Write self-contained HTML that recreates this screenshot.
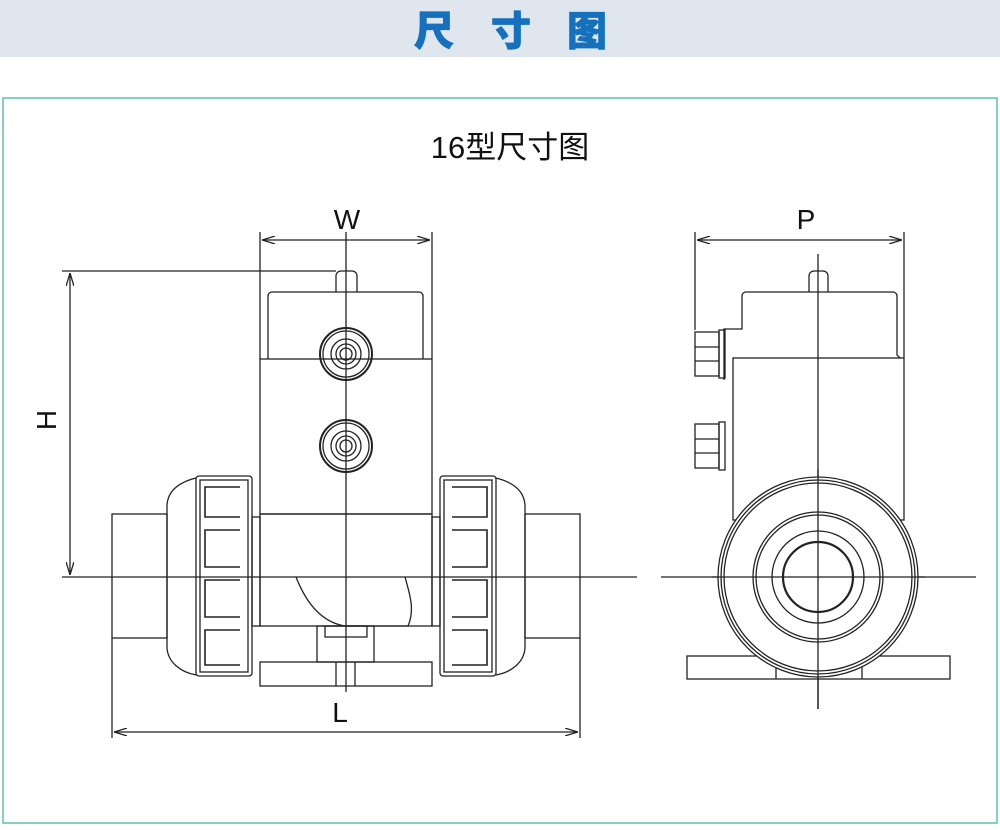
<!DOCTYPE html>
<html><head><meta charset="utf-8"><style>
body{margin:0;width:1000px;height:825px;background:#fff;overflow:hidden;font-family:"Liberation Sans","Noto Sans CJK SC",sans-serif}
</style></head><body>
<svg width="1000" height="825" viewBox="0 0 1000 825" xmlns="http://www.w3.org/2000/svg">
<rect x="0" y="0" width="1000" height="57" fill="#dfe6ee"/>
<g font-size="40" font-weight="900" fill="#1570bd" font-family="Noto Sans CJK SC, sans-serif" stroke="#1570bd" stroke-width="0.8">
<text x="414" y="45">尺</text>
<text x="491" y="45">寸</text>
<text x="567" y="45">图</text>
</g>
<rect x="3" y="98" width="994" height="725" fill="none" stroke="#5cc0b0" stroke-width="1.5"/>
<text x="510" y="158" font-size="31" text-anchor="middle" fill="#111" font-family="Liberation Sans, Noto Sans CJK SC, sans-serif">16型尺寸图</text>
<defs><marker id="a" viewBox="0 0 10 6" refX="10" refY="3" markerWidth="10" markerHeight="6" orient="auto-start-reverse"><path d="M0,0 L10,3 L0,6" fill="none" stroke="#222" stroke-width="1"/></marker></defs>
<g fill="none" stroke="#222" stroke-width="1.3">
<line x1="346" y1="232" x2="346" y2="692"/>
<line x1="62" y1="577" x2="637" y2="577"/>
<line x1="260" y1="232" x2="260" y2="359"/><line x1="432" y1="232" x2="432" y2="359"/>
<line x1="262" y1="240" x2="430" y2="240" marker-start="url(#a)" marker-end="url(#a)"/>
<line x1="62" y1="271" x2="336" y2="271"/>
<line x1="70" y1="273" x2="70" y2="575" marker-start="url(#a)" marker-end="url(#a)"/>
<path d="M336 292 V276 a5 5 0 0 1 5 -5 h11 a5 5 0 0 1 5 5 V292"/>
<path d="M268 359 V296 a4 4 0 0 1 4 -4 h147 a4 4 0 0 1 4 4 V359"/>
<rect x="260" y="359" width="172" height="155"/>
<rect x="260" y="514" width="172" height="112"/>
<g>
<circle cx="346" cy="354" r="26" stroke-width="2"/><circle cx="346" cy="354" r="23"/><circle cx="346" cy="354" r="15"/><circle cx="346" cy="354" r="10"/><circle cx="346" cy="354" r="6"/>
<circle cx="346" cy="446" r="26" stroke-width="2"/><circle cx="346" cy="446" r="23"/><circle cx="346" cy="446" r="15"/><circle cx="346" cy="446" r="10"/><circle cx="346" cy="446" r="6"/>
</g>
<path d="M296 577 C305 600 320 622 345 626 L408 626 C415 610 410 595 405 577"/>
<rect x="112" y="514" width="55" height="124"/><rect x="525" y="514" width="55" height="124"/>
<rect x="252" y="517" width="8" height="109"/><rect x="432" y="517" width="8" height="109"/>
<path d="M196 478 C180 482 168 490 167 505 V648 C168 662 180 672 196 675"/>
<rect x="196" y="476" width="56" height="200" rx="3"/>
<rect x="200" y="480" width="48" height="192"/>
<path d="M240 487 H205 V517 H240 M240 530 H205 V567 H240 M240 580 H205 V617 H240 M240 630 H205 V665 H240" stroke-width="1.6"/>
<path d="M496 478 C512 482 524 490 525 505 V648 C524 662 512 672 496 675"/>
<rect x="440" y="476" width="56" height="200" rx="3"/>
<rect x="444" y="480" width="48" height="192"/>
<path d="M452 487 H487 V517 H452 M452 530 H487 V567 H452 M452 580 H487 V617 H452 M452 630 H487 V665 H452" stroke-width="1.6"/>
<rect x="317" y="626" width="57" height="36"/><rect x="325" y="626" width="42" height="11"/>
<rect x="260" y="662" width="172" height="24"/>
<line x1="336" y1="662" x2="336" y2="686"/><line x1="355" y1="662" x2="355" y2="686"/>
<line x1="112" y1="638" x2="112" y2="738"/><line x1="580" y1="638" x2="580" y2="738"/>
<line x1="114" y1="732" x2="578" y2="732" marker-start="url(#a)" marker-end="url(#a)"/>
<line x1="818" y1="254" x2="818" y2="709"/>
<line x1="661" y1="577" x2="976" y2="577"/>
<line x1="695" y1="232" x2="695" y2="330"/><line x1="904" y1="232" x2="904" y2="358"/>
<line x1="697" y1="240" x2="902" y2="240" marker-start="url(#a)" marker-end="url(#a)"/>
<path d="M809 292 V276 a5 5 0 0 1 5 -5 h9 a5 5 0 0 1 5 5 V292"/>
<path d="M724 380 V329 H742 V296 a4 4 0 0 1 4 -4 h147 a4 4 0 0 1 4 4 V355 l3 3"/>
<rect x="733" y="358" width="171" height="162"/>
<rect x="695" y="332" width="24" height="44"/><rect x="719" y="330" width="6" height="48"/>
<line x1="695" y1="347" x2="719" y2="347"/><line x1="695" y1="361" x2="719" y2="361"/>
<rect x="695" y="424" width="24" height="44"/><rect x="719" y="422" width="6" height="48"/>
<line x1="695" y1="439" x2="719" y2="439"/><line x1="695" y1="453" x2="719" y2="453"/>
<rect x="687" y="656" width="263" height="23"/>
<line x1="776" y1="656" x2="776" y2="679"/><line x1="862" y1="656" x2="862" y2="679"/>
<circle cx="818" cy="577" r="100" fill="#fff"/><circle cx="818" cy="577" r="97"/><circle cx="818" cy="577" r="94"/>
<circle cx="818" cy="577" r="65"/><circle cx="818" cy="577" r="62"/>
<circle cx="818" cy="577" r="46"/>
<circle cx="818" cy="577" r="35" stroke-width="2.2"/>
<line x1="818" y1="470" x2="818" y2="709"/>
<line x1="712" y1="577" x2="925" y2="577"/>
</g>
<g font-family="Liberation Sans, sans-serif" font-size="28" fill="#111" text-anchor="middle">
<text x="347" y="229">W</text>
<text x="806" y="229">P</text>
<text x="340" y="722">L</text>
<text transform="translate(56,420) rotate(-90)">H</text>
</g>
</svg>
</body></html>
